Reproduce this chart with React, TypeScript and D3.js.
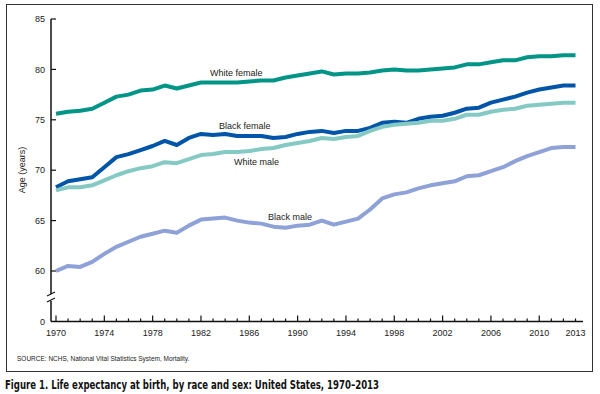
import React from "react";
import * as d3 from "d3";

const years = d3.range(1970, 2014);

const whiteFemale = [75.6, 75.8, 75.9, 76.1, 76.7, 77.3, 77.5, 77.9, 78.0, 78.4, 78.1, 78.4, 78.7, 78.7, 78.7, 78.7, 78.8, 78.9, 78.9, 79.2, 79.4, 79.6, 79.8, 79.5, 79.6, 79.6, 79.7, 79.9, 80.0, 79.9, 79.9, 80.0, 80.1, 80.2, 80.5, 80.5, 80.7, 80.9, 80.9, 81.2, 81.3, 81.3, 81.4, 81.4];
const blackFemale = [68.3, 68.9, 69.1, 69.3, 70.3, 71.3, 71.6, 72.0, 72.4, 72.9, 72.5, 73.2, 73.6, 73.5, 73.6, 73.4, 73.4, 73.4, 73.2, 73.3, 73.6, 73.8, 73.9, 73.7, 73.9, 73.9, 74.2, 74.7, 74.8, 74.7, 75.1, 75.3, 75.4, 75.7, 76.1, 76.2, 76.7, 77.0, 77.3, 77.7, 78.0, 78.2, 78.4, 78.4];
const whiteMale = [68.0, 68.3, 68.3, 68.5, 69.0, 69.5, 69.9, 70.2, 70.4, 70.8, 70.7, 71.1, 71.5, 71.6, 71.8, 71.8, 71.9, 72.1, 72.2, 72.5, 72.7, 72.9, 73.2, 73.1, 73.3, 73.4, 73.9, 74.3, 74.5, 74.6, 74.7, 74.9, 74.9, 75.1, 75.5, 75.5, 75.8, 76.0, 76.1, 76.4, 76.5, 76.6, 76.7, 76.7];
const blackMale = [60.0, 60.5, 60.4, 60.9, 61.7, 62.4, 62.9, 63.4, 63.7, 64.0, 63.8, 64.5, 65.1, 65.2, 65.3, 65.0, 64.8, 64.7, 64.4, 64.3, 64.5, 64.6, 65.0, 64.6, 64.9, 65.2, 66.1, 67.2, 67.6, 67.8, 68.2, 68.5, 68.7, 68.9, 69.4, 69.5, 69.9, 70.3, 70.9, 71.4, 71.8, 72.2, 72.3, 72.3];

const series = [
  { name: "White female", values: whiteFemale, color: "#009587", lx: 210, ly: 73 },
  { name: "Black female", values: blackFemale, color: "#0055a8", lx: 219, ly: 126 },
  { name: "White male", values: whiteMale, color: "#85c9c4", lx: 234, ly: 162 },
  { name: "Black male", values: blackMale, color: "#8ea2d8", lx: 268, ly: 217 },
];

const yTicks = [60, 65, 70, 75, 80, 85];
const xLabels = [1970, 1974, 1978, 1982, 1986, 1990, 1994, 1998, 2002, 2006, 2010, 2013];

const font = "'Liberation Sans', Arial, Helvetica, sans-serif";

export default function App() {
  const x = d3.scaleLinear().domain([1970, 2013]).range([56, 575.5]);
  const y = d3.scaleLinear().domain([60, 85]).range([271, 19]);
  const axisX = 51;
  const baseY = 321.5;

  const line = d3
    .line<number>()
    .x((_, i) => x(years[i]))
    .y((d) => y(d))
    .curve(d3.curveLinear);

  return (
    <svg width={600} height={394} style={{ position: "absolute", left: 0, top: 0 }} fontFamily={font}>
      <rect x={0} y={0} width={600} height={394} fill="#fff" />
      <rect x={6.5} y={4.5} width={586} height={367} fill="none" stroke="#333" strokeWidth={1} />

      {/* y axis with break */}
      <line x1={axisX} x2={axisX} y1={y(85)} y2={294} stroke="#111" strokeWidth={1.5} />
      <line x1={axisX} x2={axisX} y1={301} y2={baseY} stroke="#111" strokeWidth={1.5} />
      <line x1={47} x2={55} y1={296} y2={292} stroke="#111" strokeWidth={1.2} />
      <line x1={47} x2={55} y1={302} y2={298} stroke="#111" strokeWidth={1.2} />
      {yTicks.map((t) => (
        <g key={t}>
          <line x1={axisX} x2={axisX + 5} y1={y(t)} y2={y(t)} stroke="#111" strokeWidth={1.2} />
          <text x={45} y={y(t)} dy="0.35em" textAnchor="end" fontSize={9} fill="#222">{t}</text>
        </g>
      ))}
      <text x={45} y={baseY} dy="0.35em" textAnchor="end" fontSize={9} fill="#222">0</text>
      <text transform={`translate(25,170) rotate(-90)`} textAnchor="middle" fontSize={9} fill="#222">Age (years)</text>

      {/* x axis */}
      <line x1={axisX} x2={583} y1={baseY} y2={baseY} stroke="#111" strokeWidth={1.5} />
      {years.map((yr) => (
        <line key={yr} x1={x(yr)} x2={x(yr)} y1={baseY} y2={baseY - ((yr - 1970) % 4 === 0 ? 6 : 3)} stroke="#111" strokeWidth={1.2} />
      ))}
      {xLabels.map((yr) => (
        <text key={yr} x={x(yr)} y={333} dy="0.35em" textAnchor="middle" fontSize={9} fill="#222">{yr}</text>
      ))}

      {series.map((s) => (
        <path key={s.name} d={line(s.values) || ""} fill="none" stroke={s.color} strokeWidth={4} strokeLinejoin="round" />
      ))}
      {series.map((s) => (
        <text key={s.name + "l"} x={s.lx} y={s.ly} dy="0.35em" fontSize={9} fill="#222">{s.name}</text>
      ))}

      <text x={17} y={359} dy="0.35em" fontSize={6.5} fill="#222">SOURCE: NCHS, National Vital Statistics System, Mortality.</text>
      <text x={5} y={385} dy="0.35em" fontSize={12.5} fontWeight="bold" fill="#111"
        fontFamily="'Liberation Sans Narrow', 'Arial Narrow', 'DejaVu Sans Condensed', sans-serif"
        textLength={374} lengthAdjust="spacingAndGlyphs">
        Figure 1. Life expectancy at birth, by race and sex: United States, 1970–2013
      </text>
    </svg>
  );
}
